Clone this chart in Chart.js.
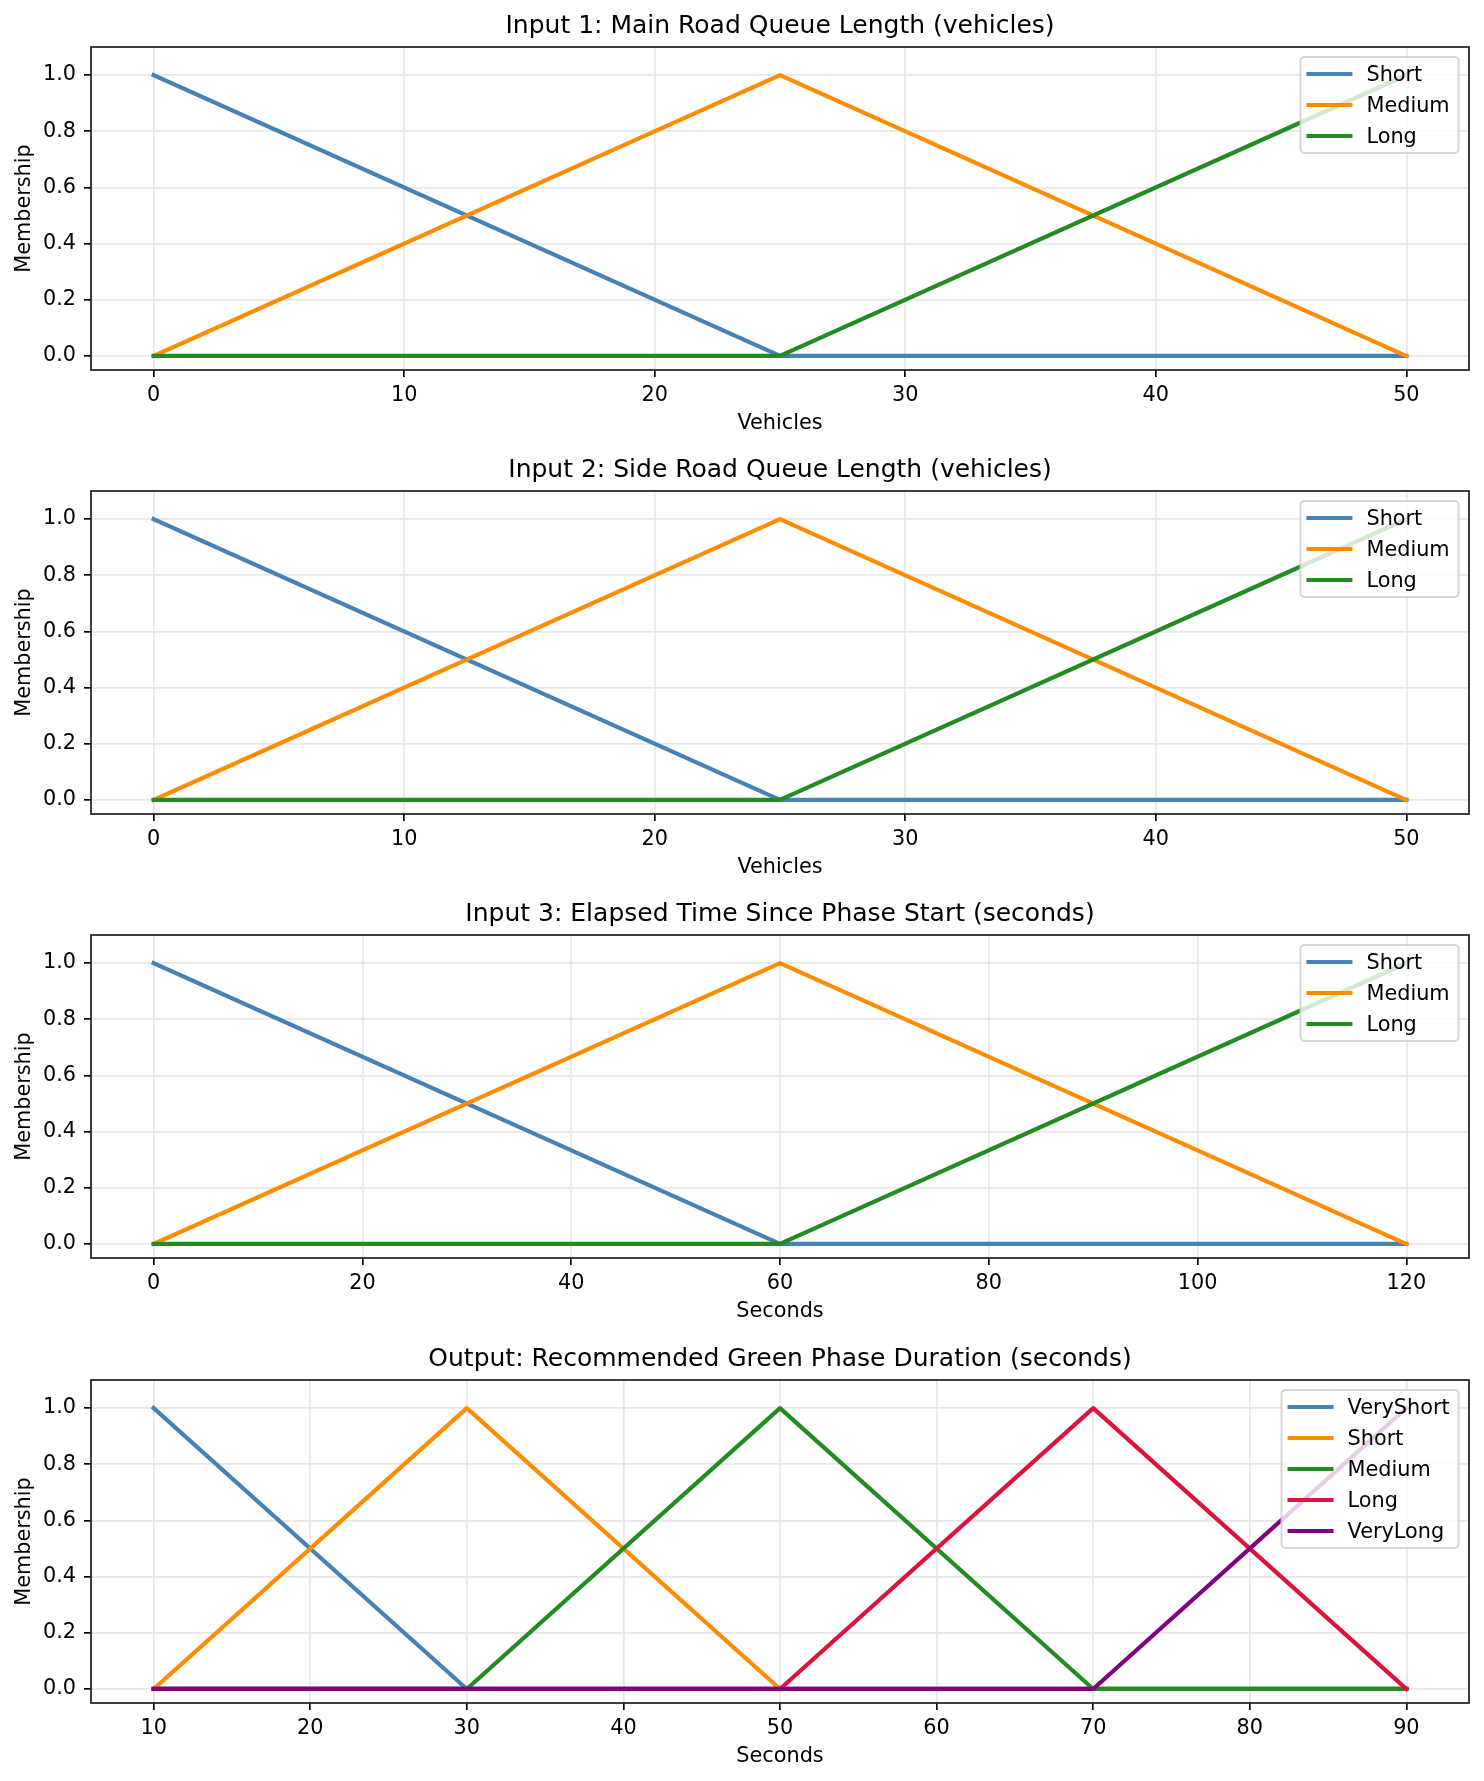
<!DOCTYPE html>
<html>
<head>
<meta charset="utf-8">
<title>Traffic light fuzzy membership functions</title>
<script src="https://cdn.jsdelivr.net/npm/chart.js@4.4.1/dist/chart.umd.min.js"></script>
<style>
  body { margin: 0; background: #fff; }
  #page { position: relative; width: 1484px; height: 1781px; background: #fff; }
  .panel { position: absolute; left: 0; width: 1484px; }
  canvas { display: block; }
</style>
</head>
<body>
<div id="page">
  <div class="panel" style="top:0px"><canvas id="mainRoadChart" width="1484" height="444"></canvas></div>
  <div class="panel" style="top:444px"><canvas id="sideRoadChart" width="1484" height="444"></canvas></div>
  <div class="panel" style="top:888px"><canvas id="elapsedChart" width="1484" height="444"></canvas></div>
  <div class="panel" style="top:1333px"><canvas id="greenChart" width="1484" height="448"></canvas></div>
</div>
<script>
// Membership axis (shared)
const membershipTicks = [0, 0.2, 0.4, 0.6, 0.8, 1.0];

// Input 1 + 2: queue length in vehicles
const vehicleX = [0, 25, 50];
const vehicleTicks = [0, 10, 20, 30, 40, 50];
const mainShort = [1, 0, 0];
const mainMedium = [0, 1, 0];
const mainLong = [0, 0, 1];
const sideShort = [1, 0, 0];
const sideMedium = [0, 1, 0];
const sideLong = [0, 0, 1];

// Input 3: elapsed time
const elapsedX = [0, 60, 120];
const elapsedTicks = [0, 20, 40, 60, 80, 100, 120];
const elapsedShort = [1, 0, 0];
const elapsedMedium = [0, 1, 0];
const elapsedLong = [0, 0, 1];

// Output: green phase duration
const greenX = [10, 30, 50, 70, 90];
const greenTicks = [10, 20, 30, 40, 50, 60, 70, 80, 90];
const greenVeryShort = [1, 0, 0, 0, 0];
const greenShort = [0, 1, 0, 0, 0];
const greenMedium = [0, 0, 1, 0, 0];
const greenLong = [0, 0, 0, 1, 0];
const greenVeryLong = [0, 0, 0, 0, 1];

const COLORS = {
    steelblue: '#4682B4',
    orange: '#FF8C00',
    green: '#228B22',
    crimson: '#DC143C',
    purple: '#800080'
};

const FONT = 'DejaVu Sans';
const GRID = '#e7e7e7';

Chart.defaults.font.family = FONT;
Chart.defaults.color = '#000';

// axes box like matplotlib spines
const axesFrame = {
    id: 'axesFrame',
    afterDatasetsDraw(chart) {
        const { ctx, chartArea: a } = chart;
        ctx.save();
        ctx.strokeStyle = '#1a1a1a';
        ctx.lineWidth = 1.67;
        ctx.strokeRect(a.left, a.top, a.right - a.left, a.bottom - a.top);
        ctx.restore();
    }
};

// legend drawn inside the plot, upper right
const insideLegend = {
    id: 'insideLegend',
    afterDraw(chart) {
        const { ctx, chartArea: a } = chart;
        const sets = chart.data.datasets;
        ctx.save();
        ctx.font = '20.8px "' + FONT + '"';
        const textW = Math.max(...sets.map(d => ctx.measureText(d.label).width));
        const w = 66 + textW + 9;
        const h = 34 + (sets.length - 1) * 31;
        const x = a.right - 10.4 - w;
        const y = a.top + 10;
        ctx.beginPath();
        ctx.roundRect(x, y, w, h, 4);
        ctx.fillStyle = 'rgba(255,255,255,0.8)';
        ctx.fill();
        ctx.strokeStyle = 'rgba(204,204,204,0.8)';
        ctx.lineWidth = 2;
        ctx.stroke();
        sets.forEach((d, i) => {
            const cy = y + 17 + i * 31;
            ctx.strokeStyle = d.borderColor;
            ctx.lineWidth = 4.2;
            ctx.beginPath();
            ctx.moveTo(x + 6, cy);
            ctx.lineTo(x + 52, cy);
            ctx.stroke();
            ctx.fillStyle = '#000';
            ctx.textBaseline = 'middle';
            ctx.textAlign = 'left';
            ctx.fillText(d.label, x + 66, cy + 1.5);
        });
        ctx.restore();
    }
};

function withMargin(values) {
    const lo = Math.min(...values), hi = Math.max(...values);
    const pad = (hi - lo) * 0.05;
    return [lo - pad, hi + pad];
}

function createPanel(canvasId, title, xLabel, xValues, xTicks, series, bottomPad) {
    const ctx = document.getElementById(canvasId).getContext('2d');
    const [xMin, xMax] = withMargin(xValues);
    const n = series.length;

    new Chart(ctx, {
        type: 'line',
        data: {
            datasets: series.map(([label, values, color], i) => ({
                label: label,
                data: xValues.map((x, j) => ({ x: x, y: values[j] })),
                borderColor: color,
                backgroundColor: color,
                borderWidth: 4.2,
                pointRadius: 0,
                tension: 0,
                fill: false,
                borderCapStyle: 'square',
                borderJoinStyle: 'round',
                order: n - i
            }))
        },
        options: {
            responsive: false,
            animation: false,
            devicePixelRatio: 1,
            layout: { padding: { left: 0, right: 15, top: 0, bottom: bottomPad } },
            plugins: {
                legend: { display: false },
                tooltip: { enabled: false },
                title: {
                    display: true,
                    text: title,
                    fullSize: false,
                    color: '#000',
                    font: { family: FONT, size: 25, weight: 'normal' },
                    padding: { top: 11, bottom: 6 }
                }
            },
            scales: {
                x: {
                    type: 'linear',
                    min: xMin,
                    max: xMax,
                    bounds: 'data',
                    afterBuildTicks: s => { s.ticks = xTicks.map(v => ({ value: v })); },
                    afterFit: s => { s.height = 74; },
                    ticks: {
                        color: '#000',
                        font: { family: FONT, size: 20.8 },
                        padding: 6,
                        autoSkip: false,
                        maxRotation: 0,
                        callback: v => String(v)
                    },
                    grid: { color: GRID, lineWidth: 1.67, tickLength: 7, tickColor: '#000', tickWidth: 1.67 },
                    border: { display: false },
                    title: {
                        display: true,
                        text: xLabel,
                        color: '#000',
                        font: { family: FONT, size: 20.8 },
                        padding: { top: 0, bottom: 8 }
                    }
                },
                y: {
                    type: 'linear',
                    min: -0.05,
                    max: 1.1,
                    bounds: 'data',
                    afterBuildTicks: s => { s.ticks = membershipTicks.map(v => ({ value: v })); },
                    afterFit: s => { s.width = 91; },
                    ticks: {
                        color: '#000',
                        font: { family: FONT, size: 20.8 },
                        padding: 8,
                        autoSkip: false,
                        callback: v => v.toFixed(1)
                    },
                    grid: { color: GRID, lineWidth: 1.67, tickLength: 7, tickColor: '#000', tickWidth: 1.67 },
                    border: { display: false },
                    title: {
                        display: true,
                        text: 'Membership',
                        color: '#000',
                        font: { family: FONT, size: 20.8 },
                        padding: { top: 12, bottom: 0 }
                    }
                }
            }
        },
        plugins: [axesFrame, insideLegend]
    });
}

createPanel('mainRoadChart', 'Input 1: Main Road Queue Length (vehicles)', 'Vehicles',
    vehicleX, vehicleTicks,
    [['Short', mainShort, COLORS.steelblue], ['Medium', mainMedium, COLORS.orange], ['Long', mainLong, COLORS.green]], 0);

createPanel('sideRoadChart', 'Input 2: Side Road Queue Length (vehicles)', 'Vehicles',
    vehicleX, vehicleTicks,
    [['Short', sideShort, COLORS.steelblue], ['Medium', sideMedium, COLORS.orange], ['Long', sideLong, COLORS.green]], 0);

createPanel('elapsedChart', 'Input 3: Elapsed Time Since Phase Start (seconds)', 'Seconds',
    elapsedX, elapsedTicks,
    [['Short', elapsedShort, COLORS.steelblue], ['Medium', elapsedMedium, COLORS.orange], ['Long', elapsedLong, COLORS.green]], 0);

createPanel('greenChart', 'Output: Recommended Green Phase Duration (seconds)', 'Seconds',
    greenX, greenTicks,
    [['VeryShort', greenVeryShort, COLORS.steelblue], ['Short', greenShort, COLORS.orange],
     ['Medium', greenMedium, COLORS.green], ['Long', greenLong, COLORS.crimson],
     ['VeryLong', greenVeryLong, COLORS.purple]], 4);
</script>
</body>
</html>
